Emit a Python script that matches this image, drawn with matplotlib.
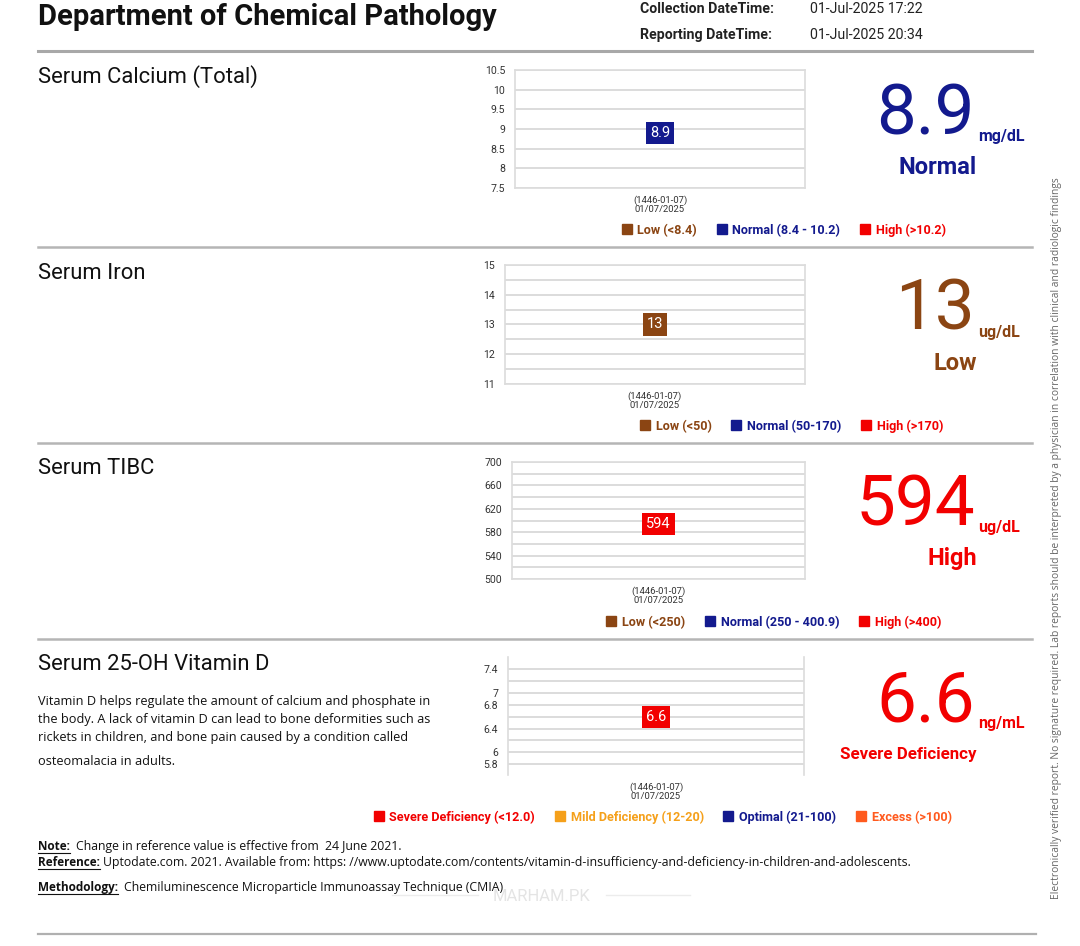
import numpy as np
import matplotlib
matplotlib.use("Agg")
import matplotlib.pyplot as plt
from matplotlib.lines import Line2D

plt.rcParams['font.family'] = ['Roboto', 'DejaVu Sans']

W, H = 1080, 946

# ---------------- data ----------------
department = "Department of Chemical Pathology"
collection_dt = "01-Jul-2025 17:22"
reporting_dt = "01-Jul-2025 20:34"

test_names = ["Serum Calcium (Total)", "Serum Iron", "Serum TIBC", "Serum 25-OH Vitamin D"]
values = [8.9, 13, 594, 6.6]
value_text = ["8.9", "13", "594", "6.6"]
units = ["mg/dL", "ug/dL", "ug/dL", "ng/mL"]
statuses = ["Normal", "Low", "High", "Severe Deficiency"]
date_label = "(1446-01-07)\n01/07/2025"

ylims = [(7.5, 10.5), (11, 15), (500, 700), (5.62, 7.6)]
tick_vals = [[7.5, 8, 8.5, 9, 9.5, 10, 10.5],
             [11, 12, 13, 14, 15],
             [500, 540, 580, 620, 660, 700],
             [5.8, 6, 6.4, 6.8, 7, 7.4]]
tick_labels = [["7.5", "8", "8.5", "9", "9.5", "10", "10.5"],
               ["11", "12", "13", "14", "15"],
               ["500", "540", "580", "620", "660", "700"],
               ["5.8", "6", "6.4", "6.8", "7", "7.4"]]
grid_vals = [[7.5, 8, 8.5, 9, 9.5, 10, 10.5],
             [11, 11.5, 12, 12.5, 13, 13.5, 14, 14.5, 15],
             [500, 520, 540, 560, 580, 600, 620, 640, 660, 680, 700],
             [5.8, 6.0, 6.2, 6.4, 6.6, 6.8, 7.0, 7.2, 7.4]]

legend_labels = [["Low (<8.4)", "Normal (8.4 - 10.2)", "High (>10.2)"],
                 ["Low (<50)", "Normal (50-170)", "High (>170)"],
                 ["Low (<250)", "Normal (250 - 400.9)", "High (>400)"],
                 ["Severe Deficiency (<12.0)", "Mild Deficiency (12-20)", "Optimal (21-100)", "Excess (>100)"]]

NAVY = "#131a8e"
BROWN = "#8b4513"
RED = "#f20000"
ORANGE = "#f5a01a"
ORANGERED = "#ff5a1e"
legend_colors = [[BROWN, NAVY, RED], [BROWN, NAVY, RED], [BROWN, NAVY, RED],
                 [RED, ORANGE, NAVY, ORANGERED]]
status_colors = [NAVY, BROWN, RED, RED]

vitd_text = ["Vitamin D helps regulate the amount of calcium and phosphate in",
             "the body. A lack of vitamin D can lead to bone deformities such as",
             "rickets in children, and bone pain caused by a condition called",
             "osteomalacia in adults."]

# ---------------- layout (pixels) ----------------
axes_px = [(515, 70, 805, 188), (505, 265, 805, 384), (512, 462, 805, 579), (508, 657, 804, 775)]
legend_px = [(784, 230), (792, 426), (774, 622), (663, 817)]
sec_off = [0, 196, 391, 587]


def fx(x):
    return x / W


def fy(y):
    return 1 - y / H


fig = plt.figure(figsize=(W / 100, H / 100), dpi=100)
fig.patch.set_facecolor("white")

# header
fig.text(fx(38), fy(17), department, fontsize=21, fontweight='bold', va='center', ha='left', color='#111')
fig.text(fx(640), fy(9), "Collection DateTime:", fontsize=10.2, fontweight='bold', va='center', color='#222')
fig.text(fx(640), fy(35), "Reporting DateTime:", fontsize=10.2, fontweight='bold', va='center', color='#222')
fig.text(fx(810), fy(9), collection_dt, fontsize=10.2, va='center', color='#222')
fig.text(fx(810), fy(35), reporting_dt, fontsize=10.2, va='center', color='#222')


def hline(y, x0=38, x1=1032, color='#b5b5b5', lw=1.8):
    fig.add_artist(Line2D([fx(x0), fx(x1)], [fy(y), fy(y)], color=color, lw=lw))


hline(51, color='#a8a8a8', lw=2.2)
for y in (247, 443, 639):
    hline(y)
hline(934, x1=1036, color='#b0b0b0', lw=1.6)

for i in range(4):
    off = sec_off[i]
    fig.text(fx(38), fy(77 + off), test_names[i], fontsize=15.8, va='center', ha='left', color='#111')

    x0, y0, x1, y1 = axes_px[i]
    ax = fig.add_axes([fx(x0), fy(y1), fx(x1) - fx(x0), (y1 - y0) / H])
    ax.set_xlim(-1, 1)
    ax.set_ylim(*ylims[i])
    ax.set_yticks(tick_vals[i])
    ax.set_yticklabels(tick_labels[i])
    ax.set_yticks(grid_vals[i], minor=True)
    ax.tick_params(axis='y', which='both', length=0, pad=7, labelsize=7.6, labelcolor='#333')
    ax.set_xticks([0])
    ax.set_xticklabels([date_label], fontsize=6.8, color='#333', linespacing=1.1)
    ax.tick_params(axis='x', length=0, pad=5)
    ax.grid(axis='y', which='minor', color='#dcdcdc', lw=1.4)
    # draw lines also where minor positions coincide with major ones
    for gv in grid_vals[i]:
        ax.axhline(gv, color='#dcdcdc', lw=1.4, zorder=0.5)
    ax.set_axisbelow(True)
    for s in ax.spines.values():
        s.set_color('#dcdcdc')
        s.set_linewidth(1.2)
    if i == 3:
        ax.spines['top'].set_visible(False)
        ax.spines['bottom'].set_visible(False)

    c = status_colors[i]
    ax.scatter([0], [values[i]], s=10, color=c, zorder=3)
    ax.annotate(value_text[i], (0, values[i]), ha='center', va='center', fontsize=10.5,
                color='white', zorder=4,
                bbox=dict(boxstyle='square,pad=0.28', fc=c, ec='none'))

    # legend
    handles = [Line2D([], [], marker='s', linestyle='', color=lc, markersize=6.5) for lc in legend_colors[i]]
    lx, ly = legend_px[i]
    fig.legend(handles, legend_labels[i], loc='center', bbox_to_anchor=(fx(lx), fy(ly)),
               ncol=len(handles), frameon=False, labelcolor=legend_colors[i],
               prop=dict(family=['Roboto', 'DejaVu Sans'], weight='bold', size=9.1),
               handlelength=0.7, handletextpad=0.5, columnspacing=1.6, borderaxespad=0)

    # big value
    base = 134 + off
    fig.text(fx(975), fy(base), value_text[i], fontsize=51, ha='right', va='baseline', color=c)
    fig.text(fx(978), fy(base + 7), units[i], fontsize=11.5, fontweight='bold', ha='left',
             va='baseline', color=c)
    fig.text(fx(977), fy(167 + off), statuses[i], fontsize=17 if i < 3 else 12.2, fontweight='bold',
             ha='right', va='center', color=c)

# Vitamin D description
for j, (line, y) in enumerate(zip(vitd_text, [701, 720, 738, 761])):
    fig.text(fx(38), fy(y), line, fontsize=9.2, family=['Open Sans', 'DejaVu Sans'],
             va='center', ha='left', color='#111')

# notes
narrow = ['Open Sans', 'DejaVu Sans']
notes = [("Note:", "Change in reference value is effective from  24 June 2021.", 846, 76),
         ("Reference:", "Uptodate.com. 2021. Available from: https: //www.uptodate.com/contents/vitamin-d-insufficiency-and-deficiency-in-children-and-adolescents.", 862, 103),
         ("Methodology:", "Chemiluminescence Microparticle Immunoassay Technique (CMIA)", 887, 124)]
fig.canvas.draw()
renderer = fig.canvas.get_renderer()
for lab, txt, y, tx in notes:
    t = fig.text(fx(38), fy(y), lab, fontsize=8.5, family=narrow, fontweight='bold', va='center',
                 ha='left', color='#111')
    bb = t.get_window_extent(renderer)
    fig.add_artist(Line2D([bb.x0 / W, bb.x1 / W], [fy(y + 7), fy(y + 7)], color='#111', lw=0.8))
    fig.text(fx(tx), fy(y), txt, fontsize=8.8, family=narrow, va='center', ha='left', color='#111')

# watermark
fig.add_artist(Line2D([fx(392), fx(478)], [fy(895), fy(895)], color='#ececec', lw=1))
fig.add_artist(Line2D([fx(606), fx(690)], [fy(895), fy(895)], color='#ececec', lw=1))
fig.text(fx(542), fy(896), "MARHAM.PK", fontsize=12, color='#e4e4e4', ha='center', va='center')

# vertical disclaimer
fig.text(fx(1056), fy(538),
         "Electronically verified report. No signature required. Lab reports should be interpreted by a physician in correlation with clinical and radiologic findings",
         rotation=90, fontsize=7.4, family=narrow, color='#666', ha='center', va='center')

fig.savefig("out.png", dpi=100, facecolor='white')
